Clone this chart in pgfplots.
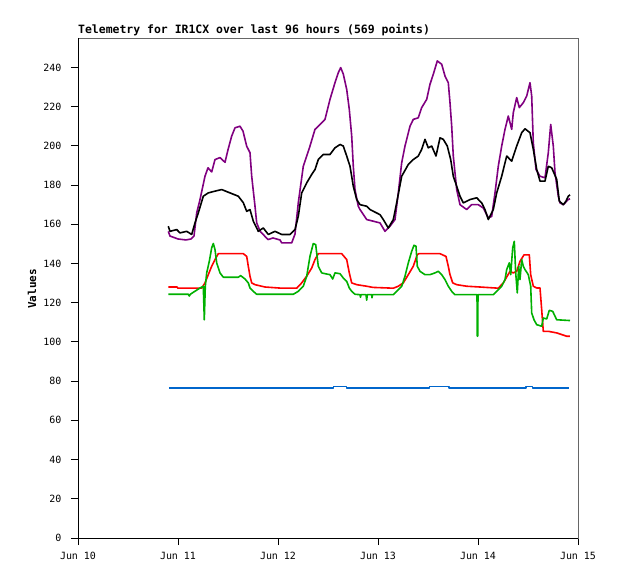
\documentclass[border=0pt]{standalone}
\usepackage{fontspec}
\usepackage{pgfplots}
\pgfplotsset{compat=1.18}
\newfontfamily\monofont{DejaVu Sans Mono}
\definecolor{cpurple}{RGB}{128,0,128}
\definecolor{cred}{RGB}{255,0,0}
\definecolor{cgreen}{RGB}{0,176,0}
\definecolor{cblue}{RGB}{0,102,204}
\begin{document}
\begin{tikzpicture}
\path[use as bounding box] (-78bp,-41bp) rectangle (540bp,538bp);
\begin{axis}[
  at={(0,0)}, anchor=south west,
  scale only axis, width=500bp, height=500bp,
  xmin=0, xmax=5, ymin=0, ymax=255,
  xtick={0,1,2,3,4,5},
  xticklabels={Jun 10,Jun 11,Jun 12,Jun 13,Jun 14,Jun 15},
  ytick={0,20,...,240},
  tick align=outside, xtick pos=bottom, ytick pos=left,
  major tick length=7bp,
  tick style={black, line width=0.9bp},
  axis line style={draw=black!60, line width=0.9bp},
  /pgf/number format/assume math mode=true,
  ticklabel style={font=\monofont\fontsize{10}{10}\selectfont},
  yticklabel style={xshift=-6bp},
  xticklabel style={yshift=-4bp},
  clip=false,
  every axis plot/.append style={line width=1.6bp, line join=round, mark=none},
]
\addplot[cpurple] table {
0.903 156.4
0.92 154
1.00 152.5
1.08 152
1.13 152.5
1.16 154
1.187 165.8
1.22 172.6
1.27 184.5
1.30 188.8
1.337 186.7
1.37 193
1.42 194
1.47 191.6
1.50 198
1.537 205
1.57 209.2
1.62 210
1.65 207.5
1.687 199.8
1.72 196.5
1.737 184.5
1.77 169.2
1.787 160.7
1.82 156.5
1.90 152.2
1.95 153
2.02 152
2.037 150.5
2.137 150.5
2.17 155
2.203 171
2.253 189.6
2.32 199.9
2.37 208.4
2.403 210
2.47 213.5
2.52 223.7
2.57 232.2
2.603 237.3
2.627 239.9
2.653 236.6
2.687 228.8
2.713 218.6
2.737 205
2.753 189.6
2.77 177.7
2.803 169.2
2.82 167.5
2.887 162.4
2.95 161.6
3.02 160.7
3.07 156.4
3.12 159
3.17 162.4
3.203 176
3.237 191.4
3.27 199.9
3.32 210
3.353 213.5
3.403 214.3
3.437 219.5
3.487 223.7
3.52 231.4
3.553 236.5
3.593 243.3
3.637 241.6
3.67 235.6
3.703 232.2
3.72 222
3.737 210
3.753 194.8
3.787 177.7
3.82 170
3.887 167.5
3.937 170
4.003 170
4.053 168.3
4.103 163.3
4.137 164
4.17 176
4.203 189.6
4.237 199.9
4.27 208.4
4.303 215.2
4.337 208.4
4.353 216.9
4.387 224.6
4.413 219.5
4.453 222
4.487 225.4
4.52 232.2
4.537 225.4
4.553 201.6
4.58 188
4.62 184.5
4.67 183.7
4.703 196.5
4.727 210.9
4.753 199.9
4.77 186.3
4.803 174.3
4.82 170.9
4.853 170
4.887 171.8
4.903 172.6
4.92 173
};
\addplot[black] table {
0.903 159
0.92 156.4
0.987 157.3
1.02 155.6
1.087 156.4
1.137 154.8
1.17 160.7
1.203 165.8
1.253 174.3
1.303 176
1.37 176.9
1.437 177.7
1.52 176
1.603 174.3
1.653 171
1.687 166.6
1.72 167.5
1.753 161.6
1.803 156.4
1.853 158.1
1.903 154.8
1.97 156.4
2.037 154.8
2.12 154.8
2.17 157.3
2.203 164.1
2.237 176
2.287 181.1
2.337 185.4
2.37 187.9
2.403 193
2.453 195.6
2.52 195.6
2.57 199
2.62 200.7
2.653 199.9
2.687 194.8
2.72 189.6
2.753 179.4
2.787 172.6
2.82 170
2.887 169.2
2.92 167.5
3.02 164.9
3.053 162.4
3.103 158.1
3.153 162.4
3.187 171
3.237 184.5
3.303 190.5
3.353 193
3.403 194.8
3.437 198.2
3.47 203.3
3.503 199
3.537 199.9
3.58 194.8
3.62 204.1
3.653 203.3
3.693 199.9
3.727 193
3.753 184.5
3.787 179.4
3.82 174.3
3.853 170.9
3.92 172.6
3.987 173.5
4.037 170.9
4.07 167.5
4.103 162.4
4.153 167.5
4.187 176
4.237 184.5
4.287 194.8
4.337 192.2
4.387 199.9
4.437 206.7
4.47 208.7
4.52 206.7
4.553 198.2
4.587 188
4.62 182
4.67 182
4.703 189.6
4.737 188.8
4.787 182.9
4.813 171.8
4.853 170
4.88 171.8
4.903 174.3
4.92 175
};
\addplot[cred] table {
0.903 128
0.99 128
1.0 127.4
1.237 127.4
1.27 130.1
1.303 134.3
1.337 138.6
1.37 142
1.403 145
1.653 145
1.687 143.6
1.703 138.6
1.72 133.5
1.737 130.1
1.77 129.2
1.87 128
2.037 127.4
2.187 127.4
2.237 130.1
2.287 133.5
2.337 137.7
2.37 142
2.403 145
2.637 145
2.687 142
2.713 135.2
2.737 130.1
2.787 129.2
2.887 128.4
2.95 127.8
3.153 127.4
3.203 128.4
3.253 130.1
3.303 134.3
3.353 138.6
3.393 144.5
3.41 145
3.62 145
3.68 143.6
3.703 138.6
3.72 134.3
3.747 130.1
3.787 129.2
3.887 128.4
4.02 128
4.203 127.4
4.253 130.1
4.32 136
4.353 135.2
4.387 136
4.42 141.1
4.46 144.4
4.513 144.4
4.527 134.3
4.553 128.4
4.587 127.5
4.62 127.5
4.637 116.4
4.653 105.4
4.703 105.4
4.787 104.6
4.887 102.9
4.92 102.9
};
\addplot[cgreen] table {
0.903 124.3
1.103 124.3
1.113 123.4
1.123 124.3
1.153 125.3
1.22 127.5
1.253 128.4
1.263 111.3
1.273 128.4
1.287 135.2
1.313 141.1
1.337 148
1.353 150.2
1.37 147.1
1.387 140.3
1.42 135.2
1.453 133
1.603 133
1.627 133.8
1.67 132.1
1.703 130.1
1.72 127.5
1.753 125.8
1.787 124.3
2.153 124.3
2.203 125.8
2.253 128.4
2.287 133.5
2.32 143.7
2.353 150.2
2.377 149.6
2.403 138.6
2.437 135.2
2.47 134.8
2.52 134.3
2.547 132.1
2.57 135.2
2.62 134.8
2.653 132.6
2.687 130.9
2.713 127.5
2.737 125.8
2.77 124.3
2.82 124.1
2.825 122.8
2.83 124.1
2.88 124.1
2.887 121.3
2.893 124.1
2.937 124.1
2.94 122.5
2.945 124.1
3.153 124.1
3.203 126.6
3.237 128.4
3.27 133.5
3.303 140.3
3.337 146.2
3.36 149.3
3.38 148.8
3.393 138.6
3.42 136
3.47 134.3
3.52 134.3
3.57 135.2
3.603 136
3.637 134.3
3.67 131.8
3.703 128.4
3.737 125.8
3.77 124.1
3.99 124.1
3.993 102.9
3.997 102.9
4.0 124.1
4.153 124.1
4.187 125.8
4.237 128.4
4.27 131.8
4.287 136.9
4.313 140.3
4.327 134.3
4.347 148
4.363 151.3
4.377 135.2
4.393 125
4.407 138.6
4.42 131.8
4.437 142
4.453 138.6
4.47 136.9
4.503 134.3
4.527 128.4
4.537 114.8
4.56 111.3
4.587 108.8
4.637 108
4.653 112.2
4.687 111.7
4.713 116.1
4.747 115.6
4.787 111.3
4.92 110.9
};
\addplot[cblue] table {
0.91 76.6
2.557 76.6
2.557 77.2
2.687 77.2
2.687 76.6
3.515 76.6
3.515 77.2
3.708 77.2
3.708 76.6
4.48 76.6
4.48 77.2
4.547 77.2
4.547 76.6
4.913 76.6
};
\draw[black, line width=0.9bp] (rel axis cs:0,1) -- (rel axis cs:0,0) -- (rel axis cs:1,0);
\end{axis}
\node[anchor=base west, inner sep=0pt, font=\monofont\bfseries\fontsize{11.5}{12}\selectfont] at (0bp,504bp) {Telemetry for IR1CX over last 96 hours (569 points)};
\node[rotate=90, inner sep=0pt, font=\monofont\bfseries\fontsize{11}{12}\selectfont] at (-46bp,249bp) {Values};
\end{tikzpicture}
\end{document}
